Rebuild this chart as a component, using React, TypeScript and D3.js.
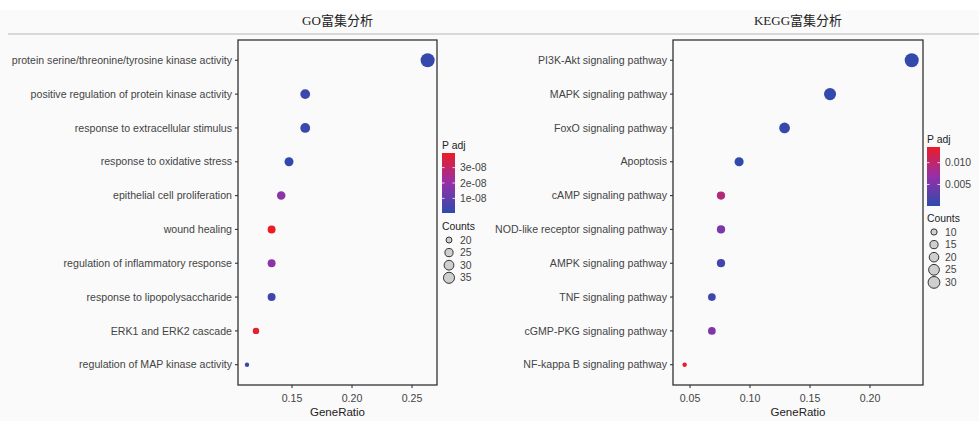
import React from 'react';
import * as d3 from 'd3';

// GO enrichment (left panel)
const goTerms = [
  'protein serine/threonine/tyrosine kinase activity',
  'positive regulation of protein kinase activity',
  'response to extracellular stimulus',
  'response to oxidative stress',
  'epithelial cell proliferation',
  'wound healing',
  'regulation of inflammatory response',
  'response to lipopolysaccharide',
  'ERK1 and ERK2 cascade',
  'regulation of MAP kinase activity',
];
const goRatio = [0.263, 0.161, 0.161, 0.1475, 0.141, 0.133, 0.133, 0.133, 0.12, 0.1125];
const goCount = [39, 24, 24, 22, 21, 20, 20, 20, 18, 17];
const goPadj = [2e-9, 3e-9, 3e-9, 5e-10, 1.8e-8, 3.95e-8, 1.8e-8, 3e-9, 3.8e-8, 3e-9];
const goXTicks = [0.15, 0.2, 0.25];
const goPadjTicks = [1e-8, 2e-8, 3e-8];
const goCountBreaks = [20, 25, 30, 35];

// KEGG enrichment (right panel)
const keggTerms = [
  'PI3K-Akt signaling pathway',
  'MAPK signaling pathway',
  'FoxO signaling pathway',
  'Apoptosis',
  'cAMP signaling pathway',
  'NOD-like receptor signaling pathway',
  'AMPK signaling pathway',
  'TNF signaling pathway',
  'cGMP-PKG signaling pathway',
  'NF-kappa B signaling pathway',
];
const keggRatio = [0.2348, 0.1667, 0.1288, 0.0909, 0.0758, 0.0758, 0.0758, 0.0682, 0.0682, 0.0455];
const keggCount = [31, 22, 17, 12, 10, 10, 10, 9, 9, 6];
const keggPadj = [0.0003, 0.0004, 0.0005, 0.00005, 0.0092, 0.005, 0.0015, 0.001, 0.0055, 0.0136];
const keggXTicks = [0.05, 0.1, 0.15, 0.2];
const keggPadjTicks = [0.005, 0.01];
const keggCountBreaks = [10, 15, 20, 25, 30];

const FONT = '"Liberation Sans", Arial, sans-serif';
const colorStops = ['#2f4aac', '#9530a8', '#ec1c26'];

const sciFmt = (v: number) => {
  const [m, e] = v.toExponential(0).split('e');
  const ex = parseInt(e, 10);
  return m + 'e' + (ex < 0 ? '-' : '+') + String(Math.abs(ex)).padStart(2, '0');
};

function Panel(props: any) {
  const { id, title, terms, ratio, count, padj, xDomain, xTicks, padjTicks, padjFmt, countBreaks, box, legendX } = props;
  const [x0, x1, y0, y1] = box;

  const x = d3.scaleLinear().domain(xDomain).range([x0, x1]);
  const y = d3.scalePoint<string>().domain(terms).range([y0, y1]).padding(0.6);

  const pExt = d3.extent(padj) as [number, number];
  const pMid = (pExt[0] + pExt[1]) / 2;
  const color = d3.scaleLinear<string>().domain([pExt[0], pMid, pExt[1]]).range(colorStops).interpolate(d3.interpolateRgb);

  const cExt = d3.extent(count) as [number, number];
  const t = d3.scaleLinear().domain(cExt).range([0, 1]);
  const rScale = (c: number) => 2.2 + (7 - 2.2) * Math.sqrt(Math.max(0, t(c)));

  const cx = (x0 + x1) / 2;

  // colour bar
  const barTop = props.barTop, barH = props.barH, barW = 13;
  const barY = d3.scaleLinear().domain(pExt).range([barTop + barH, barTop]);
  const stops = d3.range(0, 11).map(i => i / 10);
  const countTop = props.countTop;

  return (
    <g>
      <text x={cx} y={25} textAnchor="middle" fontSize={13} fill="#222"
        fontFamily='"Liberation Serif", "Noto Sans CJK SC", serif'>{title}</text>

      <rect x={x0} y={y0} width={x1 - x0} height={y1 - y0} fill="none" stroke="#333" strokeWidth={1.3} />

      {terms.map((d: string) => (
        <g key={d}>
          <line x1={x0 - 3} x2={x0} y1={y(d)} y2={y(d)} stroke="#333" strokeWidth={1.1} />
          <text x={x0 - 6} y={y(d)} dy="0.35em" textAnchor="end" fontSize={10.6} fill="#444" fontFamily={FONT}>{d}</text>
        </g>
      ))}

      {xTicks.map((v: number) => (
        <g key={v}>
          <line x1={x(v)} x2={x(v)} y1={y1} y2={y1 + 3} stroke="#333" strokeWidth={1.1} />
          <text x={x(v)} y={y1 + 17} textAnchor="middle" fontSize={10.6} fill="#444" fontFamily={FONT}>{v.toFixed(2)}</text>
        </g>
      ))}
      <text x={cx} y={y1 + 31} textAnchor="middle" fontSize={11.5} fill="#222" fontFamily={FONT}>GeneRatio</text>

      {terms.map((d: string, i: number) => (
        <circle key={d} cx={x(ratio[i])} cy={y(d)} r={rScale(count[i])} fill={color(padj[i])} />
      ))}

      {/* P adj legend */}
      <defs>
        <linearGradient id={id + '-grad'} x1="0" y1="1" x2="0" y2="0">
          {stops.map(s => (
            <stop key={s} offset={s} stopColor={color(pExt[0] + s * (pExt[1] - pExt[0]))} />
          ))}
        </linearGradient>
      </defs>
      <text x={legendX} y={barTop - 4} fontSize={10.4} fill="#222" fontFamily={FONT}>P adj</text>
      <rect x={legendX} y={barTop} width={barW} height={barH} fill={`url(#${id}-grad)`} />
      {padjTicks.map((v: number) => (
        <g key={v}>
          <line x1={legendX} x2={legendX + 2.5} y1={barY(v)} y2={barY(v)} stroke="#fff" strokeWidth={0.8} />
          <line x1={legendX + barW - 2.5} x2={legendX + barW} y1={barY(v)} y2={barY(v)} stroke="#fff" strokeWidth={0.8} />
          <text x={legendX + barW + 5} y={barY(v)} dy="0.35em" fontSize={10.4} fill="#444" fontFamily={FONT}>{padjFmt(v)}</text>
        </g>
      ))}

      {/* Counts legend */}
      <text x={legendX} y={countTop} fontSize={10.4} fill="#222" fontFamily={FONT}>Counts</text>
      {countBreaks.map((c: number, i: number) => {
        const yy = countTop + 10 + i * 12.6;
        return (
          <g key={c}>
            <circle cx={legendX + 7} cy={yy} r={rScale(c) - 1} fill="#cfcfcf" stroke="#333" strokeWidth={1} />
            <text x={legendX + barW + 5} y={yy} dy="0.35em" fontSize={10.4} fill="#444" fontFamily={FONT}>{c}</text>
          </g>
        );
      })}
    </g>
  );
}

export default function App() {
  const W = 979, H = 421;
  return (
    <div style={{ position: 'fixed', left: 0, top: 0 }}>
      <svg width={W} height={H} style={{ display: 'block' }}>
        <rect x={0} y={0} width={W} height={H} fill="#fafafa" />
        <rect x={0} y={0} width={W} height={10} fill="#ffffff" />
        <line x1={8} x2={W} y1={34} y2={34} stroke="#d8d8d8" strokeWidth={2} />
        <Panel id="go" title="GO富集分析" terms={goTerms} ratio={goRatio} count={goCount} padj={goPadj}
          xDomain={[0.105, 0.2708]} xTicks={goXTicks} padjTicks={goPadjTicks} padjFmt={sciFmt}
          countBreaks={goCountBreaks} box={[238, 437, 40, 385]} legendX={442}
          barTop={153} barH={60} countTop={230} />
        <Panel id="kegg" title="KEGG富集分析" terms={keggTerms} ratio={keggRatio} count={keggCount} padj={keggPadj}
          xDomain={[0.0358, 0.2442]} xTicks={keggXTicks} padjTicks={keggPadjTicks} padjFmt={(v: number) => v.toFixed(3)}
          countBreaks={keggCountBreaks} box={[673, 923, 40, 385]} legendX={927}
          barTop={147} barH={59} countTop={222} />
      </svg>
    </div>
  );
}
